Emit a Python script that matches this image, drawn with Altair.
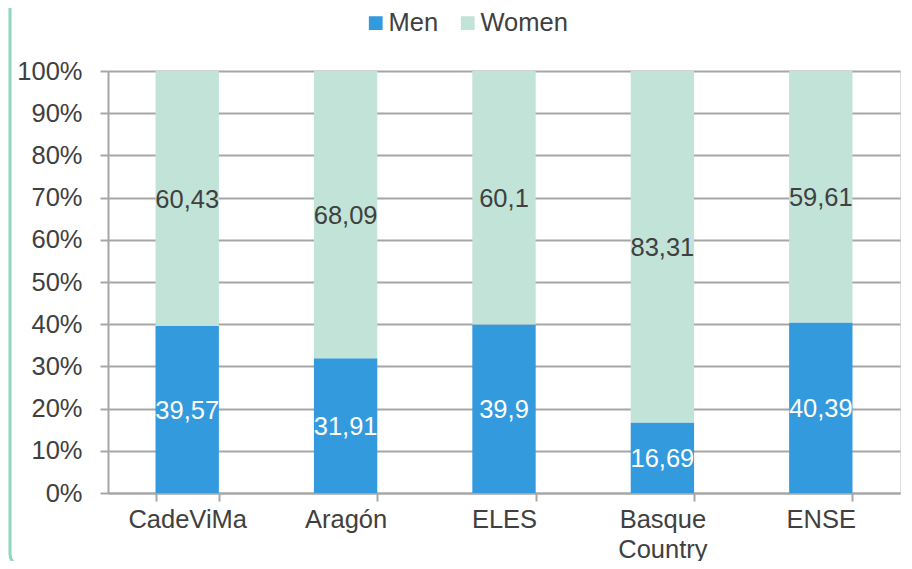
import altair as alt
import pandas as pd

categories = ["CadeViMa", "Aragón", "ELES", "Basque Country", "ENSE"]
men = [39.57, 31.91, 39.9, 16.69, 40.39]
women = [60.43, 68.09, 60.1, 83.31, 59.61]
series = ["Men", "Women"]
colors = ["#339ade", "#c2e3d7"]

rows = []
for i, c in enumerate(categories):
    rows.append({"cat": c, "sex": "Men", "order": 0, "value": men[i]})
    rows.append({"cat": c, "sex": "Women", "order": 1, "value": women[i]})
df = pd.DataFrame(rows)

FONT = "Liberation Sans"
TXT = "#404040"
GRID = "#a6a6a6"
FS = 25.5

xenc = alt.X("cat:N", sort=categories, title=None,
             scale=alt.Scale(paddingInner=0.6, paddingOuter=0.3),
             axis=alt.Axis(labelAngle=0, tickBand="extent", tickSize=8,
                           domainColor=GRID, tickColor=GRID, domainWidth=2, tickWidth=2,
                           labelFontSize=FS, labelColor=TXT, labelFont=FONT,
                           labelPadding=6, labelLineHeight=30,
                           labelExpr="split(datum.label, ' ')", grid=False))

base = alt.Chart(df)

bars = base.mark_bar().encode(
    x=xenc,
    y=alt.Y("value:Q", stack="zero", title=None,
            scale=alt.Scale(domain=[0, 100]),
            axis=alt.Axis(values=list(range(0, 101, 10)), labelExpr="datum.value + '%'",
                          tickSize=8, domainColor=GRID, tickColor=GRID, gridColor=GRID,
                          domainWidth=2, tickWidth=2, gridWidth=2,
                          labelFontSize=FS, labelColor=TXT, labelFont=FONT, labelPadding=18)),
    color=alt.Color("sex:N", sort=series, scale=alt.Scale(domain=series, range=colors),
                    legend=alt.Legend(title=None, orient="none", direction="horizontal",
                                      legendX=255, legendY=-61, symbolType="square",
                                      symbolSize=190, symbolStrokeWidth=0,
                                      labelFontSize=FS, labelColor=TXT, labelFont=FONT,
                                      labelOffset=0, columnPadding=16)),
    order=alt.Order("order:Q"),
)

labels = base.transform_stack(
    stack="value", groupby=["cat"], as_=["v0", "v1"], sort=[alt.SortField("order")]
).transform_calculate(
    mid="(datum.v0 + datum.v1) / 2",
    lab="replace(toString(datum.value), '.', ',')",
).mark_text(fontSize=FS, font=FONT, baseline="middle", dy=1).encode(
    x=alt.X("cat:N", sort=categories),
    y=alt.Y("mid:Q"),
    text="lab:N",
    color=alt.Color("sex:N", scale=alt.Scale(domain=series, range=["#ffffff", TXT]), legend=None),
)

frame = alt.Chart(pd.DataFrame({"a": [0]})).mark_rect(
    fill=None, stroke="#8ed8be", strokeWidth=3, cornerRadius=12, clip=False
).encode(x=alt.value(-98), x2=alt.value(900), y=alt.value(-90), y2=alt.value(495))

chart = alt.layer(frame, bars, labels).resolve_scale(color="independent").properties(
    width=792, height=422,
    autosize=alt.AutoSizeParams(type="none"),
    padding={"left": 100, "top": 63, "right": 4, "bottom": 68},
).configure_view(stroke=None).configure(background="white")

chart.save("out.html", embed_options={"renderer": "svg", "actions": False})
